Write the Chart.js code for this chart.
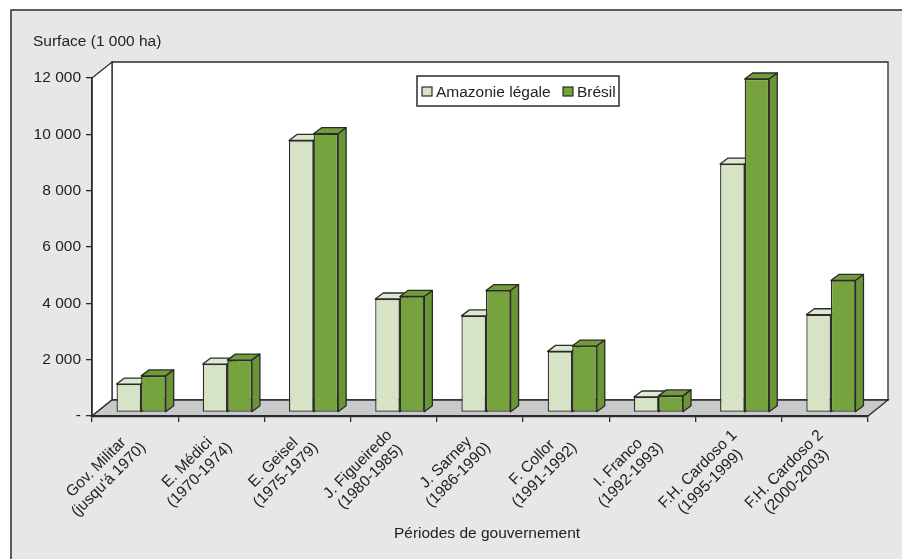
<!DOCTYPE html>
<html>
<head>
<meta charset="utf-8">
<script src="https://cdn.jsdelivr.net/npm/chart.js@4.4.1/dist/chart.umd.min.js"></script>
<style>
  html, body { margin: 0; padding: 0; background: #fff; }
  canvas { display: block; }
</style>
</head>
<body>
<canvas id="chart" width="902" height="559"></canvas>
<script>
// data (1 000 ha)
const categories = [
  ["Gov. Militar", "(jusqu'á 1970)"],
  ["E. Médici", "(1970-1974)"],
  ["E. Geisel", "(1975-1979)"],
  ["J. Figueiredo", "(1980-1985)"],
  ["J. Sarney", "(1986-1990)"],
  ["F. Collor", "(1991-1992)"],
  ["I. Franco", "(1992-1993)"],
  ["F.H. Cardoso 1", "(1995-1999)"],
  ["F.H. Cardoso 2", "(2000-2003)"]
];
const amazonie = [1010, 1720, 9660, 4030, 3430, 2170, 550, 8820, 3470];
const bresil = [1300, 1860, 9900, 4120, 4330, 2360, 590, 11840, 4690];
const seriesNames = ["Amazonie légale", "Brésil"];
const yMax = 12000;
const yStep = 2000;
const yTitle = "Surface (1 000 ha)";
const xTitle = "Périodes de gouvernement";

const FONT = "'Liberation Sans', Arial, Helvetica, sans-serif";
const FSIZE = 15.5;
const INK = "#2b2b2b";
const TEXT = "#222";
const faceColors = [
  { front: "#d6e3c5", top: "#dfe9d2", side: "#c4d2af" },
  { front: "#77a33f", top: "#709c3a", side: "#6a9535" }
];
const WALL = { dx: 20, dy: -16 };   // depth of the 3D box
const BAR = { dx: 8, dy: -6 };      // depth of each column
const SHIFT = { x: 6, y: -3.5 };    // columns sit half-way into the floor

const fmt = v => v === 0 ? "-" : String(v).replace(/\B(?=(\d{3})+(?!\d))/g, " ");

function poly(ctx, pts, fill) {
  ctx.beginPath();
  ctx.moveTo(pts[0][0], pts[0][1]);
  for (let i = 1; i < pts.length; i++) ctx.lineTo(pts[i][0], pts[i][1]);
  ctx.closePath();
  if (fill) { ctx.fillStyle = fill; ctx.fill(); }
  ctx.stroke();
}

const backdrop = {
  id: "backdrop",
  beforeDraw(chart) {
    const { ctx, chartArea: a } = chart;
    ctx.save();
    ctx.fillStyle = "#fff";
    ctx.fillRect(0, 0, chart.width, chart.height);
    ctx.fillStyle = "#e6e7e7";
    ctx.strokeStyle = INK;
    ctx.lineWidth = 1.5;
    ctx.fillRect(11, 10, chart.width, chart.height);
    ctx.strokeRect(11, 10, chart.width, chart.height);

    ctx.lineWidth = 1.3;
    // back wall
    poly(ctx, [[a.left + WALL.dx, a.top + WALL.dy], [a.right + WALL.dx, a.top + WALL.dy],
               [a.right + WALL.dx, a.bottom + WALL.dy], [a.left + WALL.dx, a.bottom + WALL.dy]], "#fff");
    // side wall
    poly(ctx, [[a.left, a.top], [a.left + WALL.dx, a.top + WALL.dy],
               [a.left + WALL.dx, a.bottom + WALL.dy], [a.left, a.bottom]], "#fff");
    // floor
    poly(ctx, [[a.left, a.bottom], [a.left + WALL.dx, a.bottom + WALL.dy],
               [a.right + WALL.dx, a.bottom + WALL.dy], [a.right, a.bottom]], "#c8c9cb");

    ctx.fillStyle = TEXT;
    ctx.font = FSIZE + "px " + FONT;
    ctx.textAlign = "left";
    ctx.textBaseline = "alphabetic";
    ctx.fillText(yTitle, 33, 46);
    ctx.restore();
  },
  beforeDatasetsDraw(chart) {
    const { ctx } = chart;
    ctx.save();
    ctx.translate(SHIFT.x, SHIFT.y);
    ctx.strokeStyle = INK;
    ctx.lineWidth = 1.3;
    ctx.lineJoin = "round";
    for (let i = 0; i < categories.length; i++) {
      chart.data.datasets.forEach((ds, d) => {
        const bar = chart.getDatasetMeta(d).data[i];
        const l = bar.x - bar.width / 2, r = bar.x + bar.width / 2;
        const t = bar.y, b = bar.base;
        const c = faceColors[d];
        poly(ctx, [[l, t], [l + BAR.dx, t + BAR.dy], [r + BAR.dx, t + BAR.dy], [r, t]], c.top);
        poly(ctx, [[r, t], [r + BAR.dx, t + BAR.dy], [r + BAR.dx, b + BAR.dy], [r, b]], c.side);
      });
    }
  },
  afterDatasetsDraw(chart) {
    chart.ctx.restore();
  },
  afterDraw(chart) {
    const { ctx } = chart;
    const xs = chart.scales.x;
    ctx.save();
    ctx.fillStyle = TEXT;
    ctx.font = FSIZE + "px " + FONT;
    ctx.textBaseline = "middle";
    ctx.textAlign = "center";
    categories.forEach((lines, i) => {
      const cx = xs.getPixelForValue(i);
      const w = Math.max(...lines.map(s => ctx.measureText(s).width));
      ctx.save();
      ctx.translate(cx + 2, 439);
      ctx.rotate(-Math.PI / 4);
      lines.forEach((s, k) => ctx.fillText(s, -w / 2, (k - (lines.length - 1) / 2) * 17.5));
      ctx.restore();
    });

    ctx.textBaseline = "alphabetic";
    ctx.fillText(xTitle, 487, 538);

    // legend
    const lx = 417, ly = 76;
    const itemX = [422, 563];
    ctx.fillStyle = "#fff";
    ctx.strokeStyle = INK;
    ctx.lineWidth = 1.5;
    ctx.fillRect(lx, ly, 202, 30);
    ctx.strokeRect(lx, ly, 202, 30);
    ctx.textAlign = "left";
    seriesNames.forEach((name, d) => {
      const x = itemX[d];
      ctx.fillStyle = faceColors[d].front;
      ctx.lineWidth = 1.2;
      ctx.fillRect(x, 87, 10, 9);
      ctx.strokeRect(x, 87, 10, 9);
      ctx.fillStyle = TEXT;
      ctx.fillText(name, x + 14, 97);
    });
    ctx.restore();
  }
};

new Chart(document.getElementById("chart"), {
  type: "bar",
  data: {
    labels: categories,
    datasets: [
      { label: seriesNames[0], data: amazonie, backgroundColor: faceColors[0].front,
        borderColor: INK, borderWidth: 1.3, borderSkipped: false },
      { label: seriesNames[1], data: bresil, backgroundColor: faceColors[1].front,
        borderColor: INK, borderWidth: 1.3, borderSkipped: false }
    ]
  },
  options: {
    responsive: false,
    animation: false,
    layout: { padding: { left: 0, top: 78, right: 34, bottom: 0 } },
    datasets: { bar: { categoryPercentage: 0.57, barPercentage: 1 } },
    plugins: { legend: { display: false }, tooltip: { enabled: false } },
    scales: {
      x: {
        afterFit: s => { s.height = 559 - 416; },
        grid: { offset: true, drawOnChartArea: false, drawTicks: true, tickLength: 6, color: INK, lineWidth: 1.3 },
        border: { display: true, color: INK, width: 2.2 },
        ticks: { display: false }
      },
      y: {
        min: 0,
        max: yMax,
        afterFit: s => { s.width = 92; },
        grid: { drawOnChartArea: false, drawTicks: true, tickLength: 6, color: INK, lineWidth: 1.3 },
        border: { display: true, color: INK, width: 1.5 },
        ticks: { stepSize: yStep, padding: 5, color: TEXT, font: { family: FONT, size: FSIZE }, callback: v => fmt(v) }
      }
    }
  },
  plugins: [backdrop]
});
</script>
</body>
</html>
